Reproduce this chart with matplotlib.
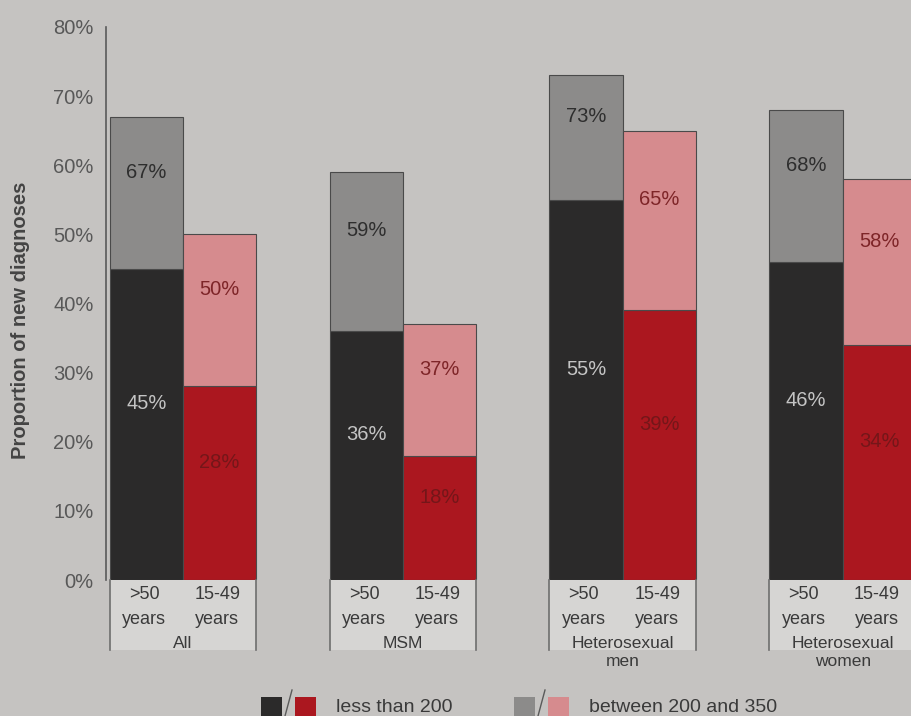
import numpy as np
import matplotlib.pyplot as plt
from matplotlib.patches import Rectangle

plt.rcParams['font.family'] = ['Liberation Sans', 'DejaVu Sans']

# data: cumulative proportions (%) of new diagnoses by CD4 count
groups = ["All", "MSM", "Heterosexual\nmen", "Heterosexual\nwomen"]
ages = [">50\nyears", "15-49\nyears"]
less_200_old = [45, 36, 55, 46]      # >50 years, CD4 < 200
less_350_old = [67, 59, 73, 68]      # >50 years, CD4 < 350
less_200_young = [28, 18, 39, 34]    # 15-49 years, CD4 < 200
less_350_young = [50, 37, 65, 58]    # 15-49 years, CD4 < 350
yticks = [0, 10, 20, 30, 40, 50, 60, 70, 80]
legend_labels = ["less than 200", "between 200 and 350"]

bg = "#c5c3c1"
box_bg = "#d6d5d3"
dark = "#2b2a2a"
red = "#ab171f"
grey = "#8c8b8a"
pink = "#d68b8e"

fig = plt.figure(figsize=(9.11, 7.16), dpi=100, facecolor=bg)
ax = fig.add_axes([106 / 911, 136 / 716, 1 - 106 / 911, (580 - 27) / 716])
ax.set_facecolor(bg)

centers = np.arange(len(groups)) * 3.0
x_old = centers - 0.5
x_young = centers + 0.5
bw = 1.0
edge = dict(edgecolor="#4a4a4a", linewidth=0.8)

ax.bar(x_old, less_200_old, bw, color=dark, **edge)
ax.bar(x_old, np.array(less_350_old) - np.array(less_200_old), bw,
       bottom=less_200_old, color=grey, **edge)
ax.bar(x_young, less_200_young, bw, color=red, **edge)
ax.bar(x_young, np.array(less_350_young) - np.array(less_200_young), bw,
       bottom=less_200_young, color=pink, **edge)

# value labels (cumulative)
fs_val = 14.5
for i in range(len(groups)):
    lo, hi = less_200_old[i], less_350_old[i]
    ax.text(x_old[i], lo / 2 + 3, f"{lo}%", ha="center", va="center",
            color="#c4c4c4", fontsize=fs_val)
    ax.text(x_old[i], (lo + hi) / 2 + 3, f"{hi}%", ha="center", va="center",
            color="#2e2e2e", fontsize=fs_val)
    lo, hi = less_200_young[i], less_350_young[i]
    ax.text(x_young[i], lo / 2 + 3, f"{lo}%", ha="center", va="center",
            color="#741619", fontsize=fs_val)
    ax.text(x_young[i], (lo + hi) / 2 + 3, f"{hi}%", ha="center", va="center",
            color="#7e2528", fontsize=fs_val)

# category boxes below the bars
box_h = 10.1
for i, c in enumerate(centers):
    ax.add_patch(Rectangle((c - 1, -box_h), 2, box_h, facecolor=box_bg,
                           edgecolor="none", clip_on=False, zorder=0))
    ax.plot([c - 1, c - 1], [0, -box_h], color="#6e6e6e", lw=1.2, clip_on=False)
    ax.plot([c + 1, c + 1], [0, -box_h], color="#6e6e6e", lw=1.2, clip_on=False)
    ax.text(x_old[i] - 0.03, -0.9, ages[0], ha="center", va="top", fontsize=13,
            color="#3a3a3a", linespacing=1.6, clip_on=False)
    ax.text(x_young[i] - 0.03, -0.9, ages[1], ha="center", va="top", fontsize=13,
            color="#3a3a3a", linespacing=1.6, clip_on=False)
    ax.text(c, -8.1, groups[i], ha="center", va="top", fontsize=12.5,
            color="#3a3a3a", linespacing=1.25, clip_on=False)

ax.set_xlim(-1.05, -1.05 + (911 - 106) / 73.3)
ax.set_ylim(0, 80)
ax.set_yticks(yticks)
ax.set_yticklabels([f"{t}%" for t in yticks], fontsize=14.5, color="#585858")
ax.tick_params(axis="y", length=0, pad=9)
ax.tick_params(axis="x", bottom=False, labelbottom=False)
for s in ["top", "right", "bottom"]:
    ax.spines[s].set_visible(False)
ax.spines["left"].set_color("#5a5a5a")
ax.spines["left"].set_linewidth(1.2)

ax.set_ylabel("Proportion of new diagnoses", fontsize=14.5, fontweight="bold",
              color="#444444")
ax.yaxis.set_label_coords(-0.095, 0.47)

# legend at the bottom
def legend_pair(x0, c1, c2, label):
    h = 19 / 716
    y0 = 0
    fig.patches.append(Rectangle((x0 / 911, y0), 21 / 911, h, facecolor=c1,
                                 edgecolor="none", transform=fig.transFigure))
    fig.patches.append(Rectangle(((x0 + 34) / 911, y0), 21 / 911, h, facecolor=c2,
                                 edgecolor="none", transform=fig.transFigure))
    fig.lines.append(plt.Line2D([(x0 + 24) / 911, (x0 + 31) / 911],
                                [y0, y0 + 26 / 716], color="#5a5a5a", lw=1,
                                transform=fig.transFigure))
    fig.text((x0 + 75) / 911, 9 / 716, label, fontsize=14, color="#3a3a3a",
             va="center", ha="left")

legend_pair(261, dark, red, legend_labels[0])
legend_pair(514, grey, pink, legend_labels[1])

fig.savefig("out.png", dpi=100, facecolor=bg)
